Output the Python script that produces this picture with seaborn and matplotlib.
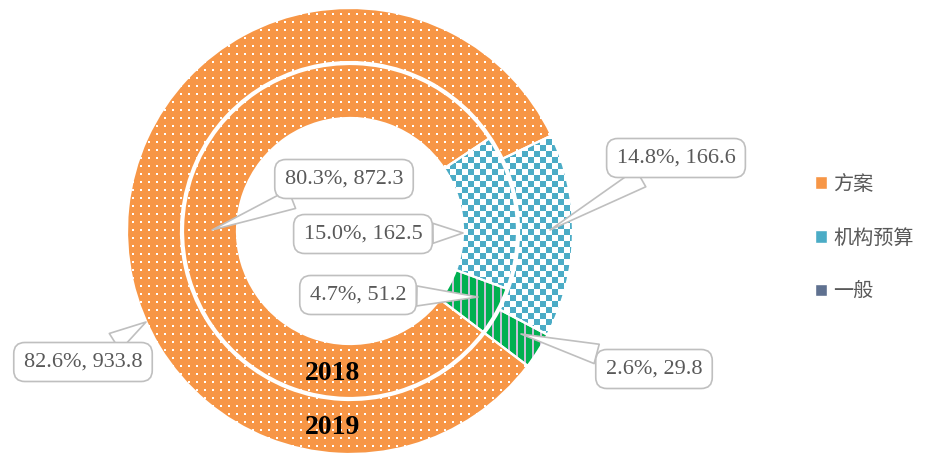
import numpy as np
import matplotlib
matplotlib.use("Agg")
import matplotlib.pyplot as plt
from matplotlib.colors import ListedColormap
from matplotlib.patches import Patch, Wedge
import seaborn as sns

W, H = 925, 453

categories = ["方案", "机构预算", "一般"]
values_2019 = [933.8, 166.6, 29.8]
values_2018 = [872.3, 162.5, 51.2]
pct_2019 = [82.6, 14.8, 2.6]
pct_2018 = [80.3, 15.0, 4.7]
years = ["2018", "2019"]

# label box centres and pointer tips (figure pixels, y from top)
boxes_2018 = [(344, 179), (363, 234), (358, 295)]
tips_2018 = [(212, 230), (463, 233), (478, 297)]
boxes_2019 = [(83, 362), (676, 158), (654, 369)]
tips_2019 = [(146, 322), (550, 230), (521, 334)]

sns.set_theme(style="white")
plt.rcParams["font.family"] = ["Liberation Serif", "Noto Sans CJK SC"]

colors = ["#F79646", "#4BACC6", "#00B050"]

fig = plt.figure(figsize=(W / 100, H / 100), dpi=100)
ax = fig.add_axes([0, 0, 1, 1])

R = 223
ring = 54 / R
start = -37.2

outer, _ = ax.pie(values_2019, radius=1.0, colors=colors, startangle=start,
                  counterclock=False, wedgeprops=dict(width=ring, lw=0))
inner, _ = ax.pie(values_2018, radius=167 / R, colors=colors, startangle=start,
                  counterclock=False, wedgeprops=dict(width=ring, lw=0))

# pixel textures: dots, checker, stripes
n = 484
ii, jj = np.indices((n, n))
dots = ((ii % 8 < 2) & (jj % 8 < 2)).astype(float)
checker = ((ii // 6 + jj // 6) % 2).astype(float)
stripes = (jj % 8 < 2).astype(float)
ext = (-n / 2 / R, n / 2 / R, -n / 2 / R, n / 2 / R)
textures = [
    (dots, ListedColormap([colors[0], "white"])),
    (checker, ListedColormap([colors[1], "white"])),
    (stripes, ListedColormap([colors[2], "#c9c0d8"])),
]

for wedges in (outer, inner):
    for w, (tex, cm) in zip(wedges, textures):
        im = ax.imshow(tex, extent=ext, cmap=cm, vmin=0, vmax=1,
                       interpolation="nearest", zorder=2)
        im.set_clip_path(w)
        ax.add_patch(Wedge(w.center, w.r, w.theta1, w.theta2, width=w.width,
                           fc="none", ec="white", lw=1.6, zorder=5))

ax.set_xlim(-350 / R, (W - 350) / R)
ax.set_ylim((231 - H) / R, 231 / R)
ax.set_aspect("equal")
ax.axis("off")


def callout(text, box, tip):
    ax.annotate(text, xy=(tip[0], H - tip[1]), xycoords="figure pixels",
                xytext=(box[0], H - box[1]), textcoords="figure pixels",
                ha="center", va="center", fontsize=16, color="#595959",
                zorder=10,
                bbox=dict(boxstyle="round,pad=0.45,rounding_size=0.5",
                          fc="white", ec="#bfbfbf", lw=1.2),
                arrowprops=dict(arrowstyle="wedge,tail_width=0.9",
                                fc="white", ec="#bfbfbf", lw=1.2,
                                shrinkA=0, shrinkB=0))


for p, v, b, t in zip(pct_2018, values_2018, boxes_2018, tips_2018):
    callout(f"{p:.1f}%, {v}", b, t)
for p, v, b, t in zip(pct_2019, values_2019, boxes_2019, tips_2019):
    callout(f"{p:.1f}%, {v}", b, t)

for yr, ypx in zip(years, [373, 428]):
    fig.text(333 / W, 1 - ypx / H, yr, ha="center", va="center",
             fontsize=20, fontweight="bold", color="black",
             family="Liberation Serif")

handles = [Patch(facecolor=colors[0]), Patch(facecolor=colors[1]),
           Patch(facecolor="#5f7190")]
leg = fig.legend(handles, categories, loc="center left",
                 bbox_to_anchor=(815 / W, 1 - 238 / H), frameon=False,
                 handlelength=0.6, handleheight=0.6, handletextpad=0.3,
                 labelspacing=1.62, borderpad=0, borderaxespad=0,
                 prop=dict(family=["Noto Sans CJK SC"], size=14.5))
for txt in leg.get_texts():
    txt.set_color("#595959")

fig.savefig("out.png", dpi=100)
